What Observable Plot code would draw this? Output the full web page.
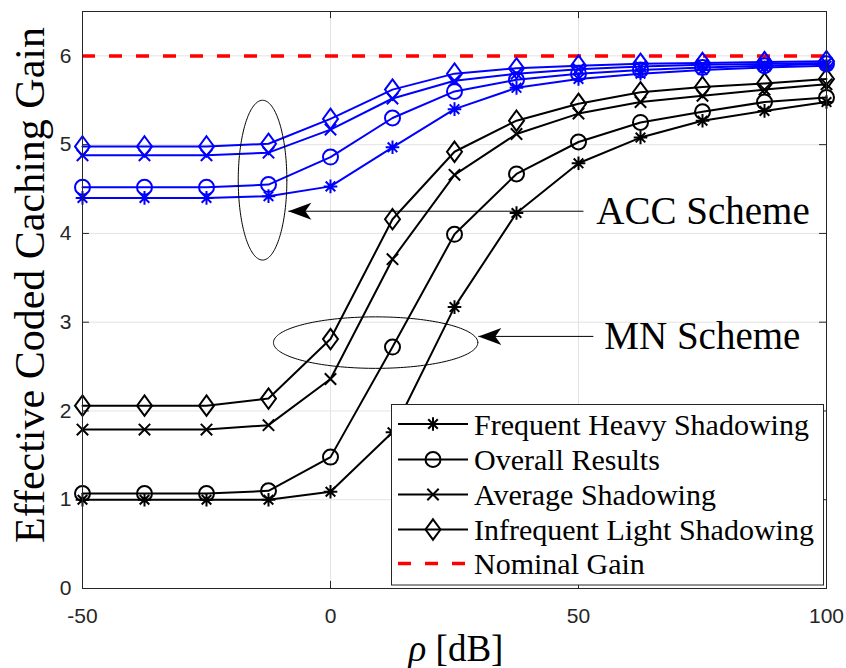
<!DOCTYPE html>
<html><head><meta charset="utf-8">
<script src="https://cdn.jsdelivr.net/npm/d3@7"></script>
<script src="https://cdn.jsdelivr.net/npm/@observablehq/plot@0.6"></script>
<style>body{margin:0;background:#fff}#chart{width:846px;height:668px}</style>
</head><body><div id="chart"></div>
<script>
// ---- data ----
const rho = [-50, -37.5, -25, -12.5, 0, 12.5, 25, 37.5, 50, 62.5, 75, 87.5, 100];
const mnHeavy   = [1.00, 1.00, 1.00, 1.00, 1.09, 1.76, 3.17, 4.23, 4.79, 5.08, 5.27, 5.38, 5.48];
const mnOverall = [1.07, 1.07, 1.07, 1.10, 1.48, 2.72, 3.99, 4.67, 5.03, 5.25, 5.37, 5.48, 5.53];
const mnAverage = [1.79, 1.79, 1.79, 1.84, 2.36, 3.71, 4.66, 5.12, 5.35, 5.48, 5.55, 5.62, 5.68];
const mnLight   = [2.06, 2.06, 2.06, 2.14, 2.81, 4.16, 4.92, 5.27, 5.46, 5.59, 5.65, 5.69, 5.74];
const accHeavy   = [4.40, 4.40, 4.40, 4.42, 4.53, 4.97, 5.40, 5.64, 5.74, 5.80, 5.84, 5.87, 5.89];
const accOverall = [4.52, 4.52, 4.52, 4.55, 4.86, 5.30, 5.60, 5.73, 5.80, 5.84, 5.87, 5.89, 5.91];
const accAverage = [4.88, 4.88, 4.88, 4.91, 5.17, 5.52, 5.72, 5.80, 5.85, 5.88, 5.90, 5.91, 5.92];
const accLight   = [4.98, 4.98, 4.98, 5.01, 5.29, 5.62, 5.80, 5.86, 5.89, 5.91, 5.92, 5.93, 5.94];
const nominalGain = [6];
const xTicks = [-50, 0, 50, 100];
const yTicks = [0, 1, 2, 3, 4, 5, 6];
const legendLabels = ["Frequent Heavy Shadowing", "Overall Results", "Average Shadowing", "Infrequent Light Shadowing", "Nominal Gain"];
const seriesMarkers = ["asterisk", "circle", "times", "diamond"];
const annotationTexts = ["ACC Scheme", "MN Scheme"];

// ---- annotation geometry (data units) ----
const accEllipse = {cx: -13.7, cy: 4.6, rx: 4.9, ry: 0.9};
const mnEllipse = {cx: 9.1, cy: 2.77, rx: 20.6, ry: 0.29};
const accArrow = {x1: 51.0, x2: -8.5, y: 4.25, tx: 53.6};
const mnArrow = {x1: 53.0, x2: 29.8, y: 2.84, tx: 55.2};

// ---- symbols ----
const symbols = {
  asterisk: {draw(c) { const a = 6.8, b = 4.8; c.moveTo(-a, 0); c.lineTo(a, 0); c.moveTo(0, -a); c.lineTo(0, a); c.moveTo(-b, -b); c.lineTo(b, b); c.moveTo(-b, b); c.lineTo(b, -b); }},
  circle: {draw(c) { c.moveTo(7.5, 0); c.arc(0, 0, 7.5, 0, 2 * Math.PI); c.closePath(); }},
  times: {draw(c) { const a = 5.7; c.moveTo(-a, -a); c.lineTo(a, a); c.moveTo(-a, a); c.lineTo(a, -a); }},
  diamond: {draw(c) { c.moveTo(0, -10.2); c.lineTo(7.5, 0); c.lineTo(0, 10.2); c.lineTo(-7.5, 0); c.closePath(); }},
  stealth: {draw(c) { c.moveTo(0, 0); c.lineTo(23, -8.5); c.lineTo(17, 0); c.lineTo(23, 8.5); c.closePath(); }}
};

const groups = [
  ...[mnHeavy, mnOverall, mnAverage, mnLight].map((v, i) => ({values: v, sym: seriesMarkers[i], color: "#000000"})),
  ...[accHeavy, accOverall, accAverage, accLight].map((v, i) => ({values: v, sym: seriesMarkers[i], color: "#0000ff"}))
];

const seriesMarks = groups.flatMap(g => {
  const d = rho.map((x, i) => ({x, y: g.values[i]}));
  return [
    Plot.line(d, {x: "x", y: "y", stroke: g.color, strokeWidth: 2}),
    Plot.dot(d, {x: "x", y: "y", symbol: symbols[g.sym], stroke: g.color, fill: "none", strokeWidth: 2})
  ];
});

function ellipsePts(e) {
  return d3.range(0, 181).map(k => {
    const t = k / 180 * 2 * Math.PI;
    return {x: e.cx + e.rx * Math.cos(t), y: e.cy + e.ry * Math.sin(t)};
  });
}

const arrows = [accArrow, mnArrow];

const svg = Plot.plot({
  width: 846, height: 668,
  marginLeft: 82, marginRight: 20, marginTop: 11, marginBottom: 80,
  x: {domain: [-50, 100]},
  y: {domain: [0, 6.5]},
  style: {background: "#fff"},
  marks: [
    Plot.ruleX(xTicks, {stroke: "#e3e3e3", strokeWidth: 1}),
    Plot.ruleY(yTicks, {stroke: "#e3e3e3", strokeWidth: 1}),
    Plot.ruleX(xTicks, {y1: 0, y2: 0.08, stroke: "#262626"}),
    Plot.ruleX(xTicks, {y1: 6.5, y2: 6.42, stroke: "#262626"}),
    Plot.ruleY(yTicks, {x1: -50, x2: -48.6, stroke: "#262626"}),
    Plot.ruleY(yTicks, {x1: 100, x2: 98.6, stroke: "#262626"}),
    Plot.axisX({ticks: xTicks, tickSize: 0, tickPadding: 20, fontSize: 21, fontFamily: "Liberation Sans", color: "#262626", label: null, tickFormat: d => String(d)}),
    Plot.axisY({ticks: yTicks, tickSize: 0, tickPadding: 11, fontSize: 21, fontFamily: "Liberation Sans", color: "#262626", label: null, tickFormat: d => String(d)}),
    Plot.ruleY(nominalGain, {stroke: "#ff0000", strokeWidth: 3.5, strokeDasharray: "13,14"}),
    ...seriesMarks,
    Plot.line(ellipsePts(accEllipse), {x: "x", y: "y", stroke: "#000", strokeWidth: 1}),
    Plot.line(ellipsePts(mnEllipse), {x: "x", y: "y", stroke: "#000", strokeWidth: 1}),
    Plot.link(arrows, {x1: "x1", x2: "x2", y1: "y", y2: "y", stroke: "#000", strokeWidth: 1}),
    Plot.dot(arrows, {x: "x2", y: "y", symbol: symbols.stealth, fill: "#000", stroke: "none"}),
    Plot.text(arrows, {x: "tx", y: "y", text: (d, i) => annotationTexts[i], textAnchor: "start", lineAnchor: "middle", fontSize: 39, fontFamily: "Liberation Serif", fill: "#000"}),
    Plot.frame({stroke: "#262626", strokeWidth: 1})
  ]
});

const root = d3.select(svg);
// y label
root.append("text")
  .attr("transform", "translate(30,285) rotate(-90)")
  .attr("text-anchor", "middle").attr("dominant-baseline", "central")
  .style("font", "42px 'Liberation Serif'").attr("fill", "#000")
  .text("Effective Coded Caching Gain");
// x label
const xl = root.append("text").attr("x", 456).attr("y", 661).attr("text-anchor", "middle")
  .style("font", "37px 'Liberation Serif'").attr("fill", "#000");
xl.append("tspan").style("font-style", "italic").text("ρ");
xl.append("tspan").text(" [dB]");

// legend
const lg = root.append("g");
lg.append("rect").attr("x", 391.5).attr("y", 404.5).attr("width", 432).attr("height", 180.5)
  .attr("fill", "#fff").attr("stroke", "#262626").attr("stroke-width", 1);
const rowY = [424, 459.5, 494.5, 529.5, 563.5];
legendLabels.forEach((lab, i) => {
  const y = rowY[i];
  if (i < 4) {
    lg.append("line").attr("x1", 398).attr("x2", 468).attr("y1", y).attr("y2", y).attr("stroke", "#000").attr("stroke-width", 2);
    lg.append("path").attr("d", d3.symbol(symbols[seriesMarkers[i]], 64)()).attr("transform", `translate(433,${y})`)
      .attr("fill", "none").attr("stroke", "#000").attr("stroke-width", 2);
  } else {
    lg.append("line").attr("x1", 398).attr("x2", 468).attr("y1", y).attr("y2", y).attr("stroke", "#ff0000").attr("stroke-width", 3.5).attr("stroke-dasharray", "13,14");
  }
  lg.append("text").attr("x", 474).attr("y", y).attr("text-anchor", "start").attr("dominant-baseline", "central")
    .style("font", "30px 'Liberation Serif'").attr("fill", "#000").text(lab);
});

document.getElementById("chart").appendChild(svg);
</script>
</body></html>
